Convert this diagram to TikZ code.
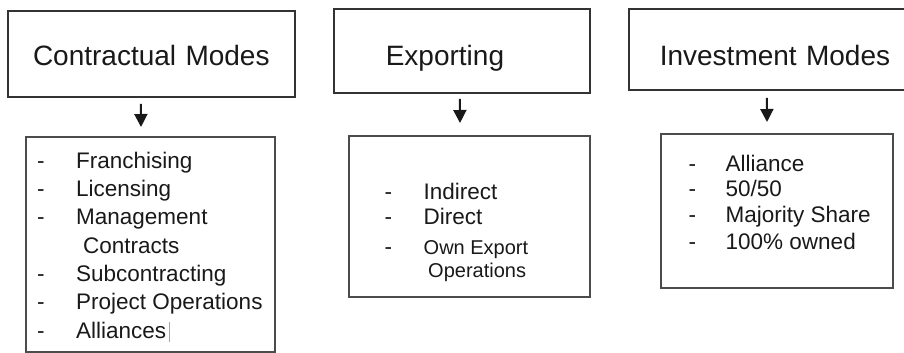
\documentclass[tikz,border=0pt]{standalone}
\usepackage{fontspec}
\setmainfont{Liberation Sans}
\usetikzlibrary{arrows.meta}
\begin{document}
\begin{tikzpicture}[x=1pt,y=-1pt,
  frame/.style={draw=black!80, line width=1.6pt},
  head/.style={frame, inner ysep=0pt, text=black!90, font=\fontsize{28}{30}\selectfont, anchor=base west},
  listbox/.style={draw=black!70, line width=2pt, anchor=north west, inner sep=0pt},
  item/.style={inner sep=0pt, anchor=base west, text=black!90, font=\fontsize{22.5}{26}\selectfont},
  smallitem/.style={item, font=\fontsize{20}{24}\selectfont},
  link/.style={line width=2pt, draw=black!90, -{Triangle[width=13pt,length=13pt]}}]
\clip (0,0) rectangle (904,353);
\fill[white] (0,0) rectangle (904,353);

% headers
\node[head, text width=287pt, inner xsep=0pt, align=center, text height=54pt, text depth=32pt] (contract) at (7,65) {Contractual Modes};
\node[head, text width=152pt, inner xsep=52pt, align=left, text height=56pt, text depth=28pt] (export) at (333,65) {Exporting};
\node[head, text width=231pt, inner xsep=31pt, align=left, text height=56pt, text depth=25pt] (invest) at (628,65) {Investment Modes};

% list boxes
\node[listbox, minimum width=249pt, minimum height=215pt] (contractlist) at (25,136) {};
\node[listbox, minimum width=241pt, minimum height=161pt] (exportlist) at (348,135) {};
\node[listbox, minimum width=232pt, minimum height=154pt] (investlist) at (660,133) {};

% arrows
\draw[link] ([xshift=-10.5pt,yshift=-6pt]contract.south) -- ([xshift=-9.5pt,yshift=9pt]contractlist.north);
\draw[link] ([xshift=-2pt,yshift=-5pt]export.south) -- ([xshift=-9.5pt,yshift=12pt]exportlist.north);
\draw[link] ([xshift=-8.5pt,yshift=-7pt]invest.south) -- ([xshift=-10pt,yshift=11pt]investlist.north);

% contractual modes list
\node[item] (cd1) at (37,168) {-};   \node[item] (ct1) at (76,168) {Franchising};
\node[item] (cd2) at (37,196) {-};   \node[item] (ct2) at (76,196) {Licensing};
\node[item] (cd3) at (37,224.5) {-}; \node[item] (ct3) at (76,224.5) {Management};
                                     \node[item] (ct3b) at (83,253) {Contracts};
\node[item] (cd4) at (37,281) {-};   \node[item] (ct4) at (76,281) {Subcontracting};
\node[item] (cd5) at (37,309.5) {-}; \node[item] (ct5) at (76,309.5) {Project Operations};
\node[item] (cd6) at (37,338) {-};   \node[item] (ct6) at (76,338) {Alliances};
\draw[black!35, line width=0.8pt] (169,322) -- (169,342);

% exporting list
\node[item] (ed1) at (384.5,199) {-}; \node[item] (et1) at (423.5,199) {Indirect};
\node[item] (ed2) at (384.5,224) {-}; \node[item] (et2) at (423.5,224) {Direct};
\node[item] (ed3) at (384.5,254) {-}; \node[smallitem] (et3) at (423.5,254) {Own Export};
                                      \node[smallitem] (et3b) at (428,277) {Operations};

% investment modes list
\node[item] (id1) at (688.5,171) {-}; \node[item] (it1) at (725.5,171) {Alliance};
\node[item] (id2) at (688.5,196) {-}; \node[item] (it2) at (725.5,196) {50/50};
\node[item] (id3) at (688.5,222) {-}; \node[item] (it3) at (725.5,222) {Majority Share};
\node[item] (id4) at (688.5,249) {-}; \node[item] (it4) at (725.5,249) {100\% owned};
\end{tikzpicture}
\end{document}
